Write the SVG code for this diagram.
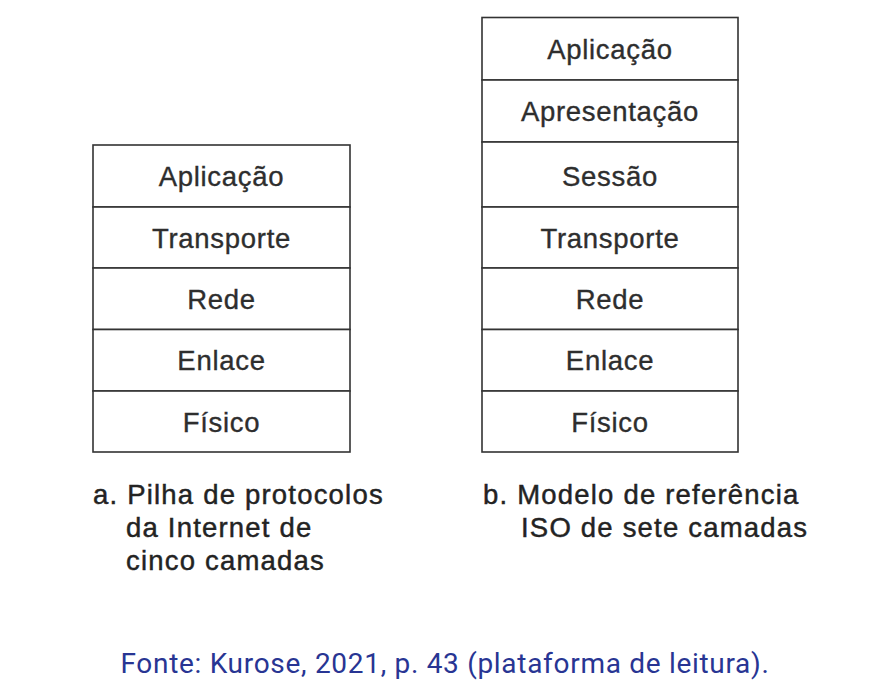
<svg xmlns="http://www.w3.org/2000/svg" width="891" height="697" viewBox="0 0 891 697">
<style>
.box{fill:#fff;stroke:#333;stroke-width:1.6}
.lbl{font-family:"Liberation Sans",Arial,sans-serif;font-size:27.5px;fill:#2e2e2e;stroke:#2e2e2e;stroke-width:0.35;text-anchor:middle;letter-spacing:0.7px}
.cap{font-family:"Liberation Sans",Arial,sans-serif;font-size:27.5px;fill:#232323;stroke:#232323;stroke-width:0.45;letter-spacing:1.2px}
.src{font-family:Roboto,"Noto Sans",sans-serif;font-size:28px;fill:#283593;text-anchor:middle;letter-spacing:0.7px}
</style>
<rect width="891" height="697" fill="#fff"/>
<g id="internet-stack">
<g id="a-aplicacao"><rect class="box" x="93" y="145" width="257" height="62"/><text class="lbl" x="221.5" y="186">Aplicação</text></g>
<g id="a-transporte"><rect class="box" x="93" y="207" width="257" height="61"/><text class="lbl" x="221.5" y="247.5">Transporte</text></g>
<g id="a-rede"><rect class="box" x="93" y="268" width="257" height="61.5"/><text class="lbl" x="221.5" y="308.8">Rede</text></g>
<g id="a-enlace"><rect class="box" x="93" y="329.5" width="257" height="61.5"/><text class="lbl" x="221.5" y="370.3">Enlace</text></g>
<g id="a-fisico"><rect class="box" x="93" y="391" width="257" height="61"/><text class="lbl" x="221.5" y="431.5">Físico</text></g>
</g>
<g id="iso-stack">
<g id="b-aplicacao"><rect class="box" x="482" y="17.5" width="256" height="62.5"/><text class="lbl" x="610" y="58.5">Aplicação</text></g>
<g id="b-apresentacao"><rect class="box" x="482" y="80" width="256" height="62"/><text class="lbl" x="610" y="121">Apresentação</text></g>
<g id="b-sessao"><rect class="box" x="482" y="142" width="256" height="65"/><text class="lbl" x="610" y="186">Sessão</text></g>
<g id="b-transporte"><rect class="box" x="482" y="207" width="256" height="61"/><text class="lbl" x="610" y="247.5">Transporte</text></g>
<g id="b-rede"><rect class="box" x="482" y="268" width="256" height="61.5"/><text class="lbl" x="610" y="308.8">Rede</text></g>
<g id="b-enlace"><rect class="box" x="482" y="329.5" width="256" height="61.5"/><text class="lbl" x="610" y="370.3">Enlace</text></g>
<g id="b-fisico"><rect class="box" x="482" y="391" width="256" height="61"/><text class="lbl" x="610" y="431.5">Físico</text></g>
</g>
<g id="caption-a">
<text class="cap" x="93" y="504">a. Pilha de protocolos</text>
<text class="cap" x="126" y="537">da Internet de</text>
<text class="cap" x="126" y="570">cinco camadas</text>
</g>
<g id="caption-b">
<text class="cap" x="483" y="504">b. Modelo de referência</text>
<text class="cap" x="521" y="537">ISO de sete camadas</text>
</g>
<g id="source">
<text class="src" x="445" y="673">Fonte: Kurose, 2021, p. 43 (plataforma de leitura).</text>
</g>
</svg>
